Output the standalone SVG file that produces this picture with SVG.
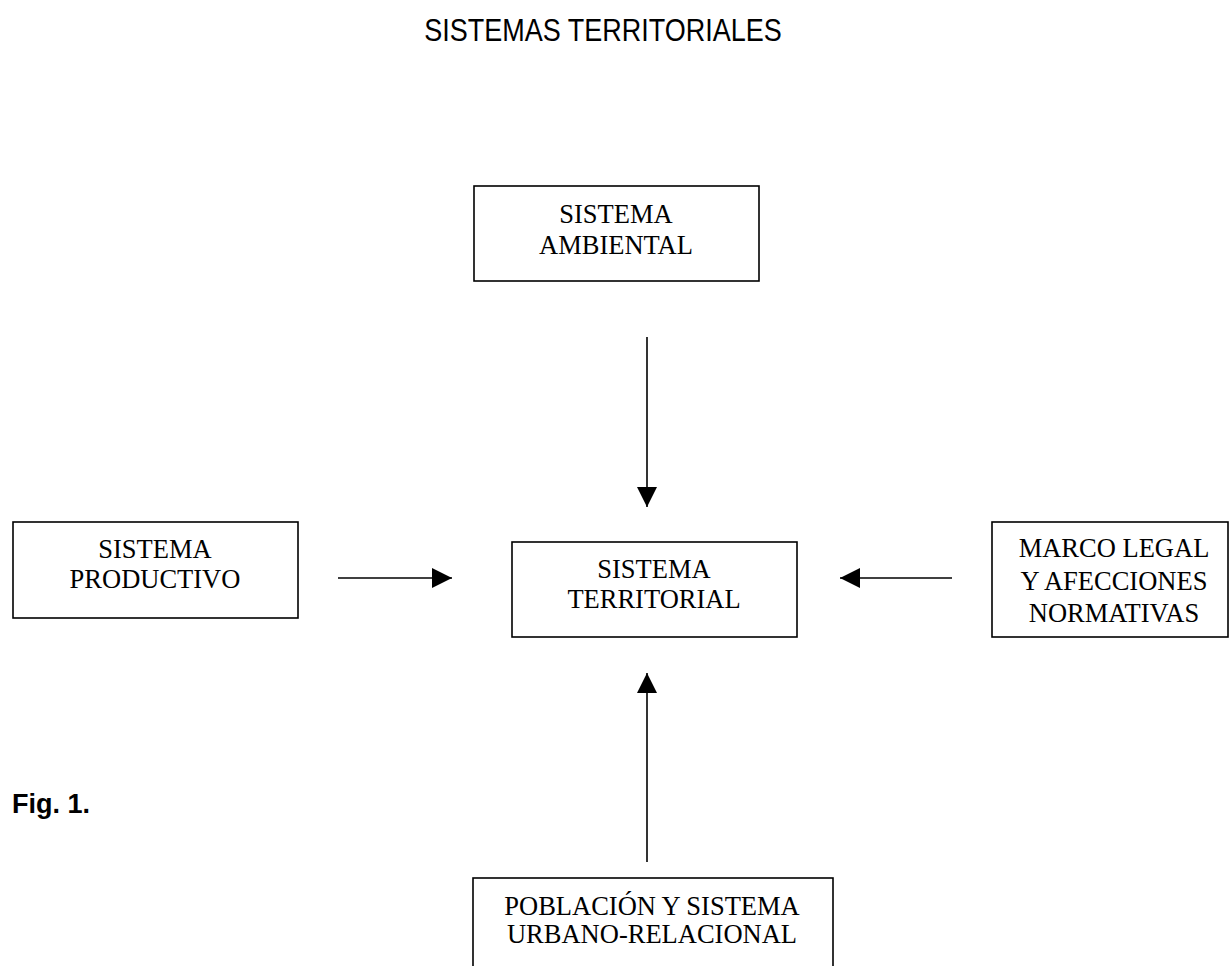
<svg xmlns="http://www.w3.org/2000/svg" width="1229" height="966" viewBox="0 0 1229 966">
<style>
.box{fill:#fff;stroke:#000;stroke-width:1.6}
.t{font-family:"Liberation Serif","Times New Roman",serif;font-size:26.5px;fill:#000;text-anchor:middle}
.ln{stroke:#000;stroke-width:1.6;fill:none}
</style>
<defs>
<marker id="ah" markerWidth="20" markerHeight="20" refX="20" refY="10" orient="auto" markerUnits="userSpaceOnUse">
<path d="M0,0 L20,10 L0,20 Z" fill="#000"/>
</marker>
</defs>
<rect width="1229" height="966" fill="#fff"/>
<text transform="translate(603,41) scale(1,1.15)" font-family="Liberation Sans, Arial, sans-serif" font-size="27" text-anchor="middle">SISTEMAS TERRITORIALES</text>
<g id="ambiental">
<rect class="box" x="474" y="186" width="285" height="95"/>
<text class="t" x="616" y="223">SISTEMA</text>
<text class="t" x="616" y="254">AMBIENTAL</text>
</g>
<g id="productivo">
<rect class="box" x="13" y="522" width="285" height="96"/>
<text class="t" x="155" y="558">SISTEMA</text>
<text class="t" x="155" y="588">PRODUCTIVO</text>
</g>
<g id="territorial">
<rect class="box" x="512" y="542" width="285" height="95"/>
<text class="t" x="654" y="578">SISTEMA</text>
<text class="t" x="654" y="608">TERRITORIAL</text>
</g>
<g id="marco">
<rect class="box" x="992" y="522" width="236" height="115"/>
<text class="t" x="1114" y="557">MARCO LEGAL</text>
<text class="t" x="1114" y="590">Y AFECCIONES</text>
<text class="t" x="1114" y="622">NORMATIVAS</text>
</g>
<g id="poblacion">
<rect class="box" x="473" y="878" width="360" height="100"/>
<text class="t" x="652" y="915">POBLACIÓN Y SISTEMA</text>
<text class="t" x="652" y="943">URBANO-RELACIONAL</text>
</g>
<g id="fig">
<text x="12" y="813" font-family="Liberation Sans, Arial, sans-serif" font-size="27" font-weight="bold">Fig. 1.</text>
</g>
<g id="connectors">
<line class="ln" x1="647" y1="337" x2="647" y2="507" marker-end="url(#ah)"/>
<line class="ln" x1="338" y1="578" x2="452" y2="578" marker-end="url(#ah)"/>
<line class="ln" x1="952" y1="578" x2="840" y2="578" marker-end="url(#ah)"/>
<line class="ln" x1="647" y1="862" x2="647" y2="673" marker-end="url(#ah)"/>
</g>
</svg>
